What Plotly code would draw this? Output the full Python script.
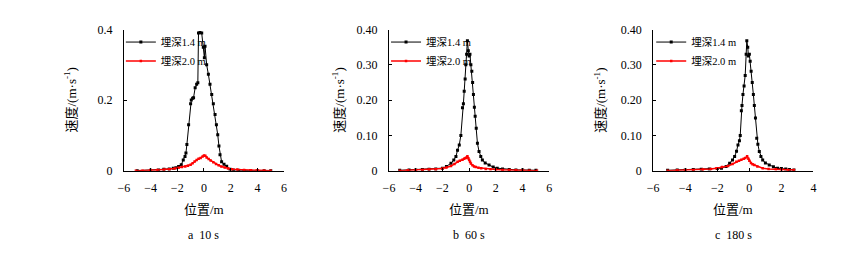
import plotly.graph_objects as go

# ---------------- data ----------------
# panel a (10 s)
a_x_14 = [-5.0, -4.0, -3.4, -3.0, -2.6, -2.3, -2.1, -1.9, -1.7, -1.55, -1.42, -1.35, -1.28, -1.15, -1.0,
          -0.95, -0.85, -0.78, -0.66, -0.55, -0.46, -0.41, -0.3, -0.17, -0.05, 0.03, 0.08, 0.2, 0.33, 0.45,
          0.58, 0.7, 0.83, 0.93, 1.03, 1.12, 1.2, 1.32, 1.5, 1.7, 1.95, 2.2, 2.6, 3.0, 3.5, 4.0, 4.5, 5.0]
a_v_14 = [0.0, 0.001, 0.002, 0.004, 0.005, 0.007, 0.008, 0.012, 0.017, 0.03, 0.04, 0.05, 0.074, 0.13, 0.19,
          0.2, 0.205, 0.207, 0.235, 0.245, 0.249, 0.39, 0.392, 0.39, 0.35, 0.32, 0.353, 0.3, 0.273, 0.245,
          0.216, 0.19, 0.159, 0.13, 0.102, 0.07, 0.045, 0.025, 0.018, 0.0125, 0.004, 0.002, 0.001, 0.0, 0.0,
          0.0, 0.0, 0.0]
a_x_20 = [-5.1, -4.6, -4.0, -3.5, -3.0, -2.6, -2.2, -1.9, -1.65, -1.4, -1.2, -1.0, -0.85, -0.7, -0.55, -0.4,
          -0.25, -0.1, 0.0, 0.1, 0.2, 0.35, 0.5, 0.7, 0.9, 1.1, 1.3, 1.55, 1.8, 2.1, 2.5, 3.0, 3.5, 4.0, 4.5, 5.0]
a_v_20 = [0.0, 0.0, 0.001, 0.002, 0.003, 0.004, 0.006, 0.008, 0.01, 0.012, 0.014, 0.017, 0.021, 0.026, 0.03,
          0.034, 0.036, 0.04, 0.043, 0.042, 0.037, 0.033, 0.029, 0.024, 0.019, 0.015, 0.012, 0.009, 0.006,
          0.004, 0.003, 0.002, 0.001, 0.001, 0.0, 0.0]

# panel b (60 s)
b_x_14 = [-5.2, -4.5, -4.0, -3.5, -3.0, -2.5, -2.0, -1.7, -1.36, -1.15, -0.99, -0.87, -0.74, -0.62, -0.5,
          -0.43, -0.37, -0.3, -0.25, -0.19, -0.13, -0.06, 0.0, 0.06, 0.13, 0.2, 0.26, 0.32, 0.39, 0.45, 0.53,
          0.62, 0.74, 0.87, 0.99, 1.2, 1.49, 1.8, 2.1, 2.5, 3.0, 3.5, 4.0, 4.5, 5.0]
b_v_14 = [0.001, 0.002, 0.002, 0.003, 0.004, 0.005, 0.007, 0.012, 0.021, 0.03, 0.04, 0.058, 0.073, 0.1,
          0.178, 0.19, 0.225, 0.26, 0.3, 0.33, 0.368, 0.34, 0.325, 0.33, 0.3, 0.282, 0.25, 0.216, 0.18, 0.154,
          0.12, 0.078, 0.054, 0.04, 0.03, 0.022, 0.016, 0.01, 0.007, 0.005, 0.003, 0.002, 0.002, 0.001, 0.001]
b_x_20 = [-5.2, -4.6, -4.0, -3.5, -3.0, -2.5, -2.0, -1.7, -1.36, -1.1, -0.87, -0.7, -0.5, -0.37, -0.25,
          -0.13, -0.06, 0.0, 0.07, 0.13, 0.25, 0.37, 0.5, 0.7, 0.9, 1.24, 1.6, 2.0, 2.5, 3.0, 3.5, 4.0, 4.5, 5.08]
b_v_20 = [0.0, 0.001, 0.001, 0.002, 0.003, 0.004, 0.006, 0.009, 0.013, 0.019, 0.025, 0.028, 0.031, 0.034,
          0.036, 0.041, 0.035, 0.03, 0.025, 0.02, 0.015, 0.012, 0.01, 0.008, 0.007, 0.005, 0.004, 0.003,
          0.002, 0.002, 0.001, 0.001, 0.0, 0.0]

# panel c (180 s)
c_x_14 = [-5.1, -4.5, -4.0, -3.5, -3.0, -2.5, -2.0, -1.74, -1.45, -1.23, -1.05, -0.92, -0.8, -0.71, -0.62,
          -0.57, -0.5, -0.46, -0.4, -0.33, -0.26, -0.2, -0.16, -0.1, -0.06, 0.0, 0.05, 0.11, 0.18, 0.25, 0.31,
          0.38, 0.46, 0.53, 0.62, 0.72, 0.83, 1.0, 1.24, 1.5, 1.76, 2.0, 2.27, 2.5, 2.78]
c_v_14 = [0.001, 0.002, 0.002, 0.003, 0.004, 0.005, 0.006, 0.007, 0.012, 0.021, 0.03, 0.04, 0.055, 0.073,
          0.085, 0.1, 0.17, 0.185, 0.216, 0.24, 0.27, 0.33, 0.368, 0.35, 0.325, 0.33, 0.31, 0.282, 0.25,
          0.216, 0.185, 0.149, 0.092, 0.075, 0.054, 0.04, 0.03, 0.022, 0.016, 0.011, 0.007, 0.006, 0.005,
          0.003, 0.002]
c_x_20 = [-5.1, -4.5, -4.0, -3.5, -2.9, -2.4, -2.05, -1.7, -1.33, -1.05, -0.81, -0.65, -0.5, -0.35, -0.25,
          -0.14, -0.06, 0.0, 0.1, 0.2, 0.31, 0.5, 0.83, 1.2, 1.65, 2.0, 2.4, 2.78]
c_v_20 = [0.0, 0.001, 0.001, 0.002, 0.003, 0.005, 0.007, 0.01, 0.013, 0.019, 0.025, 0.028, 0.031, 0.034,
          0.036, 0.041, 0.034, 0.028, 0.022, 0.018, 0.016, 0.012, 0.007, 0.005, 0.004, 0.003, 0.002, 0.002]

series_names = ["埋深1.4 m", "埋深2.0 m"]
panel_titles = ["a  10 s", "b  60 s", "c  180 s"]
x_title = "位置/m"
y_title = "速度/(m·s<sup>-1</sup>)"
x_ranges = [[-6, 6], [-6, 6], [-6, 4]]
x_ticks = [[-6, -4, -2, 0, 2, 4, 6], [-6, -4, -2, 0, 2, 4, 6], [-6, -4, -2, 0, 2, 4]]
y_ticks = [[0, 0.2, 0.4], [0, 0.1, 0.2, 0.3, 0.4], [0, 0.1, 0.2, 0.3, 0.4]]
y_ticktext = [["0", "0.2", "0.4"], ["0", "0.10", "0.20", "0.30", "0.40"], ["0", "0.10", "0.20", "0.30", "0.40"]]

panels = [(a_x_14, a_v_14, a_x_20, a_v_20),
          (b_x_14, b_v_14, b_x_20, b_v_20),
          (c_x_14, c_v_14, c_x_20, c_v_20)]

# ---------------- layout geometry (target screen px, mapped to paper coords) ----------------
W, H = 854, 253
OFF_X = 10          # measured horizontal offset of the page
OFF_Y = 15.5        # measured vertical offset of the page
EFF_H = 238.0       # measured rendered height
px_left = [121, 389, 656]
px_right = [283, 551, 818]
py_top, py_bot = 30, 170.5
ytitle_px = [67, 338, 602]
legend_px = [118, 386, 654]
legend_py = 28
xtitle_py = 209
ptitle_py = 235


def fx(p):
    return (p - OFF_X) / W


def fy(p):
    return 1 - (p - OFF_Y) / EFF_H


SERIF = "Times New Roman, Liberation Serif, Noto Sans CJK SC, serif"
BLACK = "#000000"
RED = "#ff0000"

fig = go.Figure()
layout = dict(width=W, height=H, margin=dict(l=0, r=0, t=0, b=0),
              paper_bgcolor="white", plot_bgcolor="white",
              font=dict(family=SERIF, size=12, color="black"), annotations=[])

for i, (x14, v14, x20, v20) in enumerate(panels):
    sfx = "" if i == 0 else str(i + 1)
    leg = "legend" if i == 0 else f"legend{i + 1}"
    fig.add_trace(go.Scatter(x=x14, y=v14, mode="lines+markers", name=series_names[0],
                             line=dict(color=BLACK, width=1),
                             marker=dict(color=BLACK, size=3, symbol="square"),
                             xaxis="x" + sfx, yaxis="y" + sfx, legend=leg))
    fig.add_trace(go.Scatter(x=x20, y=v20, mode="lines+markers", name=series_names[1],
                             line=dict(color=RED, width=1.5),
                             marker=dict(color=RED, size=2.5, symbol="square"),
                             xaxis="x" + sfx, yaxis="y" + sfx, legend=leg))
    dom_x = [fx(px_left[i]), fx(px_right[i])]
    dom_y = [fy(py_bot), fy(py_top)]
    layout["xaxis" + sfx] = dict(domain=dom_x, range=x_ranges[i], tickvals=x_ticks[i],
                                 ticks="inside", ticklen=3, tickcolor="black",
                                 showline=True, linecolor="black", linewidth=1,
                                 showgrid=False, zeroline=False, anchor="y" + sfx,
                                 tickfont=dict(size=12), ticklabelstandoff=6, fixedrange=True)
    layout["yaxis" + sfx] = dict(domain=dom_y, range=[0, 0.4], tickvals=y_ticks[i],
                                 ticktext=y_ticktext[i],
                                 ticks="inside", ticklen=3, tickcolor="black",
                                 showline=True, linecolor="black", linewidth=1,
                                 showgrid=False, zeroline=False, anchor="x" + sfx,
                                 tickfont=dict(size=12), ticklabelstandoff=8, fixedrange=True)
    layout[leg] = dict(x=fx(legend_px[i]), y=fy(legend_py), xanchor="left", yanchor="top",
                       bgcolor="rgba(0,0,0,0)", font=dict(size=10.5, family=SERIF),
                       tracegroupgap=0, itemwidth=30)
    cx = (px_left[i] + px_right[i]) / 2
    layout["annotations"].append(dict(text=x_title, x=fx(cx), y=fy(xtitle_py), xref="paper", yref="paper",
                                      xanchor="center", yanchor="middle",
                                      showarrow=False, font=dict(size=13)))
    layout["annotations"].append(dict(text=panel_titles[i], x=fx(cx), y=fy(ptitle_py), xref="paper",
                                      yref="paper", xanchor="center", yanchor="middle",
                                      showarrow=False, font=dict(size=12)))
    layout["annotations"].append(dict(text=y_title, x=fx(ytitle_px[i]), y=fy((py_top + py_bot) / 2),
                                      xref="paper", yref="paper", xanchor="center", yanchor="middle",
                                      showarrow=False, textangle=-90, font=dict(size=13)))

fig.update_layout(**layout)
fig.write_html("out.html")
